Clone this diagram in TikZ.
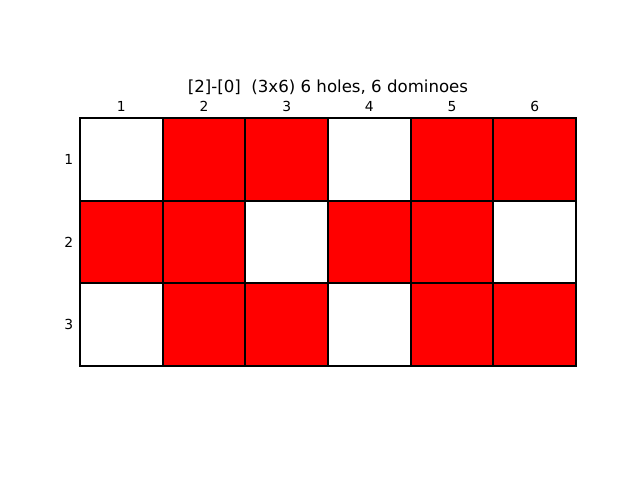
\documentclass[tikz,border=0pt]{standalone}
\usepackage{fontspec}
\setmainfont{DejaVu Sans}
\usepackage{tikz}
\usetikzlibrary{positioning}

\tikzset{
  cell/.style={draw=black, line width=1.4pt, line cap=rect},
  domino/.style={fill=red},
  ticklabel/.style={font=\fontsize{10}{12}\selectfont, inner sep=0pt}
}

\begin{document}
\begin{tikzpicture}[x=0.82667in, y=-0.82667in]
  \useasboundingbox (-0.9677,-1.4274) rectangle (6.7742,4.3790);
  % covered cells: fills first, so the borders stay on top
  \foreach \x/\y in {1/0,2/0,4/0,5/0,0/1,1/1,3/1,4/1,1/2,2/2,4/2,5/2} {
    \fill[domino] (\x,\y) rectangle ++(1,1);
  }
  % cell borders
  \foreach \x in {0,...,6} {
    \draw[cell] (\x,0) -- (\x,3);
  }
  \foreach \y in {0,...,3} {
    \draw[cell] (0,\y) -- (6,\y);
  }
  % column and row labels
  \foreach \c in {1,...,6} {
    \node[ticklabel, anchor=south] (col\c) at (\c-0.5,-0.075) {\c};
  }
  \foreach \r in {1,...,3} {
    \node[ticklabel, anchor=east] (row\r) at (-0.08,\r-0.5) {\r};
  }
  \node[font=\fontsize{12}{14}\selectfont, inner sep=0pt] (title) at (3,-0.375) {[2]-[0]\ \ (3x6) 6 holes, 6 dominoes};
\end{tikzpicture}
\end{document}
